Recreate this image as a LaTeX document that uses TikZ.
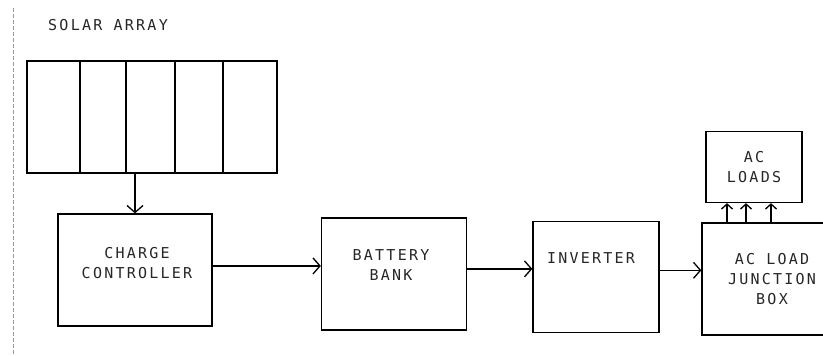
\documentclass[tikz,border=0pt]{standalone}
\usepackage{fontspec}
\newfontfamily\plotfont[LetterSpace=15]{DejaVu Sans Mono}
\usetikzlibrary{arrows.meta}

\begin{document}
\begin{tikzpicture}[
    x=1pt, y=-1pt,
    >={Straight Barb[length=7pt,width=16pt]},
    block/.style={
        draw=black,
        line width=1.3pt,
        inner sep=0pt
    },
    caption/.style={
        align=center,
        text=black!85,
        font=\plotfont\fontsize{15}{20}\selectfont
    },
    arrow/.style={
        ->,
        line width=1.3pt,
        draw=black
    },
    tick/.style={
        <-,
        >={Straight Barb[length=5pt,width=11pt]},
        line width=1.3pt,
        draw=black
    }
]

    \useasboundingbox (0,0) rectangle (823,356);

    \draw[black!40, line width=0.6pt, dash pattern=on 4pt off 2pt]
        (13,8) -- (13,356);

    \node[caption] (solartxt) at (108,25) {SOLAR ARRAY};

    \node[block, minimum width=250, minimum height=112] (solar) at (152,117) {};
    \foreach \x in {80,126,175,223}{
        \draw[line width=1.3pt] (\x,0 |- solar.north) -- (\x,0 |- solar.south);
    }

    \node[block, minimum width=154, minimum height=112] (cc) at (135,270) {};
    \node[caption] (cctxt) at (137,263) {CHARGE\\CONTROLLER};

    \node[block, minimum width=145, minimum height=112] (bat) at (394,274) {};
    \node[caption] (battxt) at (391,265) {BATTERY\\BANK};

    \node[block, minimum width=126, minimum height=111] (inv) at (596,277) {};
    \node[caption] (invtxt) at (591,258) {INVERTER};

    \node[block, caption, minimum width=140, minimum height=112] (jb) at (772,279)
        {AC LOAD\\JUNCTION\\BOX};

    \node[block, caption, minimum width=96, minimum height=71] (loads) at (754,167)
        {AC\\LOADS};

    \draw[arrow] (cc.north |- solar.south) -- (cc.north);
    \draw[arrow] (cc.3) -- (cc.3 -| bat.west);
    \draw[arrow] (bat.4) -- (bat.4 -| inv.west);
    \draw[arrow] (inv.6) -- (inv.6 -| jb.west);

    \foreach \dx [count=\i] in {-27,-8,17}{
        \path ([xshift=\dx pt]loads.south) coordinate (up\i);
        \draw[tick] (up\i) -- (up\i |- jb.north);
    }

\end{tikzpicture}
\end{document}
